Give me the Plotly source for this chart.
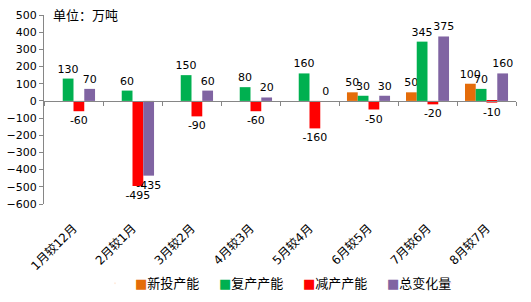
import plotly.graph_objects as go

categories = ["1月较12月", "2月较1月", "3月较2月", "4月较3月", "5月较4月", "6月较5月", "7月较6月", "8月较7月"]
new_cap = [0, 0, 0, 0, 0, 50, 50, 100]
resume_cap = [130, 60, 150, 80, 160, 30, 345, 70]
cut_cap = [-60, -495, -90, -60, -160, -50, -20, -10]
total_change = [70, -435, 60, 20, 0, 30, 375, 160]

series = [
    ("新投产能", new_cap, "#E46C0A", False),
    ("复产产能", resume_cap, "#00B050", False),
    ("减产产能", cut_cap, "#FF0000", False),
    ("总变化量", total_change, "#8064A2", True),
]

FONT = "DejaVu Sans, Noto Sans CJK SC, sans-serif"

fig = go.Figure()
for name, vals, color, show_zero in series:
    txt = [str(v) if (v != 0 or show_zero) else "" for v in vals]
    fig.add_trace(go.Bar(
        name=name, x=categories, y=vals, marker=dict(color=color, line=dict(width=0)),
        text=txt, textposition="outside", constraintext="none", cliponaxis=False,
        textfont=dict(size=11, color="#000000", family=FONT), showlegend=False,
    ))

# legend entries: small coloured squares as text
for name, vals, color, _ in series:
    fig.add_trace(go.Scatter(
        x=[None], y=[None], mode="markers", marker=dict(size=1, opacity=0),
        name=f'<span style="color:{color}">■</span>{name}', showlegend=True,
    ))
# spacer entry so the last legend label is not clipped
fig.add_trace(go.Scatter(x=[None], y=[None], mode="markers", marker=dict(size=1, opacity=0),
                         name=" ", showlegend=True, hoverinfo="skip"))

# invisible trace to carry the secondary x axis at zero
fig.add_trace(go.Scatter(x=categories, y=[0]*len(categories), xaxis="x2", mode="lines",
                         line=dict(width=0), showlegend=False, hoverinfo="skip"))

fig.update_layout(
    width=531, height=302,
    margin=dict(l=44, r=15, t=15, b=98, autoexpand=False),
    paper_bgcolor="white", plot_bgcolor="white",
    barmode="group", bargap=0.27, bargroupgap=0,
    font=dict(family=FONT, size=11, color="#000000"),
    showlegend=True,
    legend=dict(orientation="h", x=0.108, xanchor="left", y=-0.42, yanchor="middle",
                font=dict(size=13), itemwidth=30, traceorder="normal",
                entrywidth=39, entrywidthmode="pixels"),
    xaxis=dict(type="category", tickangle=-45, showline=False, ticks="",
               tickfont=dict(size=12), showgrid=False, zeroline=False,
               ticklabelstandoff=14, automargin=False),
    xaxis2=dict(type="category", overlaying="x", matches="x", anchor="free",
                position=600/1100, showline=True, linecolor="#868686", linewidth=1,
                ticks="outside", tickson="boundaries", ticklen=4, tickcolor="#868686",
                showticklabels=False, showgrid=False, zeroline=False, automargin=False),
    yaxis=dict(range=[-600, 500], dtick=100, showline=True, linecolor="#868686", linewidth=1,
               ticks="outside", ticklen=4, tickcolor="#868686", showgrid=False,
               zeroline=False, tickfont=dict(size=11), automargin=False),
    annotations=[dict(text="单位：万吨", xref="paper", yref="paper", x=0.015, y=0.995,
                      xanchor="left", yanchor="middle", showarrow=False,
                      font=dict(size=13, color="#000000"))],
)

fig.write_html("out.html")
